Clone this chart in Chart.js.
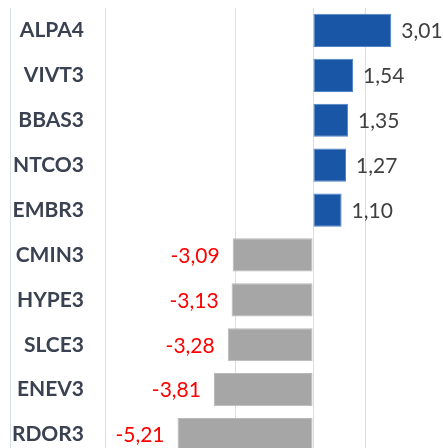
<!DOCTYPE html>
<html>

<head>
    <style>
        html, body {
            margin: 0;
            padding: 0;
            background: #fff;
            overflow: hidden;
        }
    </style>
    <script src="https://cdn.jsdelivr.net/npm/chart.js"></script>
    <title>Maiores altas e baixas</title>
</head>

<body>
    <canvas id="rank_chart" width="443" height="457"></canvas>

    <script>
        const tickers = ['ALPA4', 'VIVT3', 'BBAS3', 'NTCO3', 'EMBR3', 'CMIN3', 'HYPE3', 'SLCE3', 'ENEV3', 'RDOR3'];
        const changes = [3.01, 1.54, 1.35, 1.27, 1.10, -3.09, -3.13, -3.28, -3.81, -5.21];
        const gridValues = [-8, -3, 0, 2];

        const labelFont = 'bold 21px Lato';
        const valueFont = '21px Lato';

        // widest ticker, so mirrored labels end at the same x as in the picture
        const probe = document.createElement('canvas').getContext('2d');
        probe.font = labelFont;
        const widest = Math.max(...tickers.map(t => probe.measureText(t).width));

        const fmt = v => v.toFixed(2).replace('.', ',');

        const valueLabels = {
            id: 'valueLabels',
            afterDatasetsDraw(chart) {
                const ctx = chart.ctx;
                const meta = chart.getDatasetMeta(0);
                ctx.save();
                ctx.font = valueFont;
                ctx.textBaseline = 'middle';
                meta.data.forEach((bar, i) => {
                    const v = changes[i];
                    if (v >= 0) {
                        ctx.fillStyle = '#404040';
                        ctx.textAlign = 'left';
                        ctx.fillText(fmt(v), bar.x + 10, bar.y + 1);
                    } else {
                        ctx.fillStyle = '#ff0000';
                        ctx.textAlign = 'right';
                        ctx.fillText(fmt(v), bar.x - 13, bar.y + 1);
                    }
                });
                ctx.restore();
            }
        };

        new Chart(document.getElementById('rank_chart'), {
            type: 'bar',
            data: {
                labels: tickers,
                datasets: [{
                    data: changes,
                    backgroundColor: changes.map(v => v >= 0 ? '#1957a6' : '#a6a6a6'),
                    borderColor: changes.map(v => v >= 0 ? '#4f84c8' : '#b8b8b8'),
                    borderWidth: 1,
                    borderSkipped: false,
                    barPercentage: 0.74,
                    categoryPercentage: 1
                }]
            },
            options: {
                indexAxis: 'y',
                responsive: false,
                animation: false,
                layout: { padding: { left: 10, right: 0, top: 8, bottom: 0 } },
                plugins: {
                    legend: { display: false },
                    tooltip: { enabled: false }
                },
                scales: {
                    x: {
                        min: -11.654,
                        max: 5.0,
                        afterBuildTicks: scale => {
                            scale.ticks = gridValues.map(v => ({ value: v }));
                        },
                        ticks: { display: false },
                        grid: { color: '#d8dee7', lineWidth: 1, drawTicks: false },
                        border: { display: false }
                    },
                    y: {
                        afterFit: scale => {
                            // labels sit inside the plot, so the axis takes no room
                            scale.width = 0;
                            scale.paddingTop = 0;
                            scale.paddingBottom = 0;
                        },
                        grid: { display: false, drawTicks: false },
                        border: { display: true, color: '#d8dee7', width: 1 },
                        ticks: {
                            mirror: true,
                            crossAlign: 'far',
                            padding: 74 - widest,
                            color: '#3a4150',
                            font: { family: 'Lato', size: 21, weight: 'bold' }
                        }
                    }
                }
            },
            plugins: [valueLabels]
        });
    </script>
</body>

</html>
